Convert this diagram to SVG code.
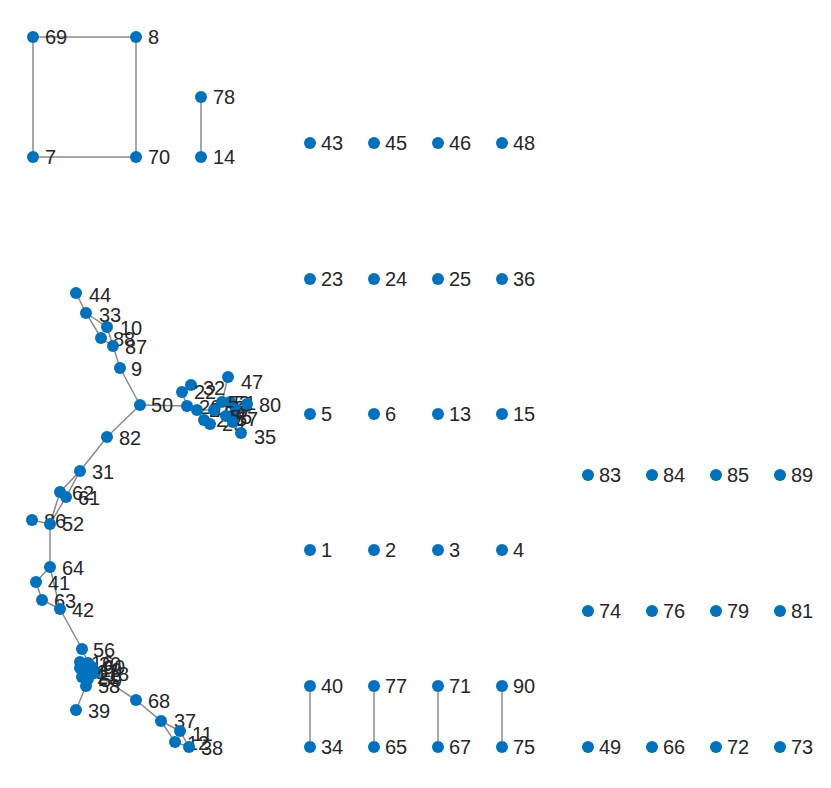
<svg xmlns="http://www.w3.org/2000/svg" width="831" height="788" viewBox="0 0 831 788">
<style>
.e{stroke:#8a8a8a;stroke-width:1.5;fill:none}
.n circle{fill:#0072BD}
.n text{font-family:"Liberation Sans",Arial,sans-serif;font-size:20px;fill:#262626}
</style>
<rect width="831" height="788" fill="#ffffff"/>
<g id="edges" class="e">
<path d="M33,37H136V157H33Z"/>
<path d="M201,97V157"/>
<path d="M310,686V747M374,686V747M438,686V747M502,686V747"/>
<path d="M76,293L86,313L101,338L113,346L120,368L140,405"/>
<path d="M86,313L107,327L113,346"/>
<path d="M140,405L187,406"/>
<path d="M140,405L107,437L80,471"/>
<path d="M80,471L60,492L50,524M80,471L66,497L50,524"/>
<path d="M32,520L50,524L50,567L36,582L42,600L60,609L50,567"/>
<path d="M60,609L82,649L88,663"/>
<path d="M86,686L76,710M95,673L136,700L161,721L180,731L189,747M161,721L175,742L189,747"/>
<path d="M84,672L80,662M84,672L88,663M84,672L92,667M84,672L80,668M84,672L95,673M84,672L82,677M84,672L88,679M84,672L86,686"/>
<path d="M187,406L182,392L191,385M187,406L197,410L204,420L210,424M197,410L214,410L222,402L230,402L247,404M230,402L236,410L233,422L240,433M214,410L226,416M222,402L228,377"/>
</g>
<g id="n69" class="n"><circle cx="33" cy="37" r="6"/><text x="45" y="44">69</text></g>
<g id="n8" class="n"><circle cx="136" cy="37" r="6"/><text x="148" y="44">8</text></g>
<g id="n7" class="n"><circle cx="33" cy="157" r="6"/><text x="45" y="164">7</text></g>
<g id="n70" class="n"><circle cx="136" cy="157" r="6"/><text x="148" y="164">70</text></g>
<g id="n78" class="n"><circle cx="201" cy="97" r="6"/><text x="213" y="104">78</text></g>
<g id="n14" class="n"><circle cx="201" cy="157" r="6"/><text x="213" y="164">14</text></g>
<g id="n43" class="n"><circle cx="310" cy="143" r="6"/><text x="321" y="150">43</text></g>
<g id="n45" class="n"><circle cx="374" cy="143" r="6"/><text x="385" y="150">45</text></g>
<g id="n46" class="n"><circle cx="438" cy="143" r="6"/><text x="449" y="150">46</text></g>
<g id="n48" class="n"><circle cx="502" cy="143" r="6"/><text x="513" y="150">48</text></g>
<g id="n23" class="n"><circle cx="310" cy="279" r="6"/><text x="321" y="286">23</text></g>
<g id="n24" class="n"><circle cx="374" cy="279" r="6"/><text x="385" y="286">24</text></g>
<g id="n25" class="n"><circle cx="438" cy="279" r="6"/><text x="449" y="286">25</text></g>
<g id="n36" class="n"><circle cx="502" cy="279" r="6"/><text x="513" y="286">36</text></g>
<g id="n5" class="n"><circle cx="310" cy="414" r="6"/><text x="321" y="421">5</text></g>
<g id="n6" class="n"><circle cx="374" cy="414" r="6"/><text x="385" y="421">6</text></g>
<g id="n13" class="n"><circle cx="438" cy="414" r="6"/><text x="449" y="421">13</text></g>
<g id="n15" class="n"><circle cx="502" cy="414" r="6"/><text x="513" y="421">15</text></g>
<g id="n1" class="n"><circle cx="310" cy="550" r="6"/><text x="321" y="557">1</text></g>
<g id="n2" class="n"><circle cx="374" cy="550" r="6"/><text x="385" y="557">2</text></g>
<g id="n3" class="n"><circle cx="438" cy="550" r="6"/><text x="449" y="557">3</text></g>
<g id="n4" class="n"><circle cx="502" cy="550" r="6"/><text x="513" y="557">4</text></g>
<g id="n40" class="n"><circle cx="310" cy="686" r="6"/><text x="321" y="693">40</text></g>
<g id="n77" class="n"><circle cx="374" cy="686" r="6"/><text x="385" y="693">77</text></g>
<g id="n71" class="n"><circle cx="438" cy="686" r="6"/><text x="449" y="693">71</text></g>
<g id="n90" class="n"><circle cx="502" cy="686" r="6"/><text x="513" y="693">90</text></g>
<g id="n34" class="n"><circle cx="310" cy="747" r="6"/><text x="321" y="754">34</text></g>
<g id="n65" class="n"><circle cx="374" cy="747" r="6"/><text x="385" y="754">65</text></g>
<g id="n67" class="n"><circle cx="438" cy="747" r="6"/><text x="449" y="754">67</text></g>
<g id="n75" class="n"><circle cx="502" cy="747" r="6"/><text x="513" y="754">75</text></g>
<g id="n83" class="n"><circle cx="588" cy="475" r="6"/><text x="599" y="482">83</text></g>
<g id="n84" class="n"><circle cx="652" cy="475" r="6"/><text x="663" y="482">84</text></g>
<g id="n85" class="n"><circle cx="716" cy="475" r="6"/><text x="727" y="482">85</text></g>
<g id="n89" class="n"><circle cx="780" cy="475" r="6"/><text x="791" y="482">89</text></g>
<g id="n74" class="n"><circle cx="588" cy="611" r="6"/><text x="599" y="618">74</text></g>
<g id="n76" class="n"><circle cx="652" cy="611" r="6"/><text x="663" y="618">76</text></g>
<g id="n79" class="n"><circle cx="716" cy="611" r="6"/><text x="727" y="618">79</text></g>
<g id="n81" class="n"><circle cx="780" cy="611" r="6"/><text x="791" y="618">81</text></g>
<g id="n49" class="n"><circle cx="588" cy="747" r="6"/><text x="599" y="754">49</text></g>
<g id="n66" class="n"><circle cx="652" cy="747" r="6"/><text x="663" y="754">66</text></g>
<g id="n72" class="n"><circle cx="716" cy="747" r="6"/><text x="727" y="754">72</text></g>
<g id="n73" class="n"><circle cx="780" cy="747" r="6"/><text x="791" y="754">73</text></g>
<g id="n44" class="n"><circle cx="76" cy="293" r="6"/><text x="89" y="302">44</text></g>
<g id="n33" class="n"><circle cx="86" cy="313" r="6"/><text x="99" y="322">33</text></g>
<g id="n88" class="n"><circle cx="101" cy="338" r="6"/><text x="113" y="346">88</text></g>
<g id="n10" class="n"><circle cx="107" cy="327" r="6"/><text x="120" y="335">10</text></g>
<g id="n87" class="n"><circle cx="113" cy="346" r="6"/><text x="125" y="354">87</text></g>
<g id="n9" class="n"><circle cx="120" cy="368" r="6"/><text x="131" y="376">9</text></g>
<g id="n50" class="n"><circle cx="140" cy="405" r="6"/><text x="151" y="412">50</text></g>
<g id="n82" class="n"><circle cx="107" cy="437" r="6"/><text x="119" y="445">82</text></g>
<g id="n31" class="n"><circle cx="80" cy="471" r="6"/><text x="92" y="479">31</text></g>
<g id="n62" class="n"><circle cx="60" cy="492" r="6"/><text x="72" y="500">62</text></g>
<g id="n61" class="n"><circle cx="66" cy="497" r="6"/><text x="78" y="505">61</text></g>
<g id="n86" class="n"><circle cx="32" cy="520" r="6"/><text x="44" y="528">86</text></g>
<g id="n52" class="n"><circle cx="50" cy="524" r="6"/><text x="62" y="531">52</text></g>
<g id="n64" class="n"><circle cx="50" cy="567" r="6"/><text x="62" y="575">64</text></g>
<g id="n41" class="n"><circle cx="36" cy="582" r="6"/><text x="48" y="590">41</text></g>
<g id="n63" class="n"><circle cx="42" cy="600" r="6"/><text x="54" y="608">63</text></g>
<g id="n42" class="n"><circle cx="60" cy="609" r="6"/><text x="72" y="617">42</text></g>
<g id="n56" class="n"><circle cx="82" cy="649" r="6"/><text x="93" y="657">56</text></g>
<g id="n20" class="n"><circle cx="88" cy="663" r="6"/><text x="99" y="671">20</text></g>
<g id="n16" class="n"><circle cx="80" cy="662" r="6"/><text x="91" y="670">16</text></g>
<g id="n60" class="n"><circle cx="92" cy="667" r="6"/><text x="103" y="674">60</text></g>
<g id="n17" class="n"><circle cx="84" cy="672" r="6"/><text x="96" y="679">17</text></g>
<g id="n19" class="n"><circle cx="80" cy="668" r="6"/><text x="100" y="677">19</text></g>
<g id="n18" class="n"><circle cx="95" cy="673" r="6"/><text x="107" y="681">18</text></g>
<g id="n21" class="n"><circle cx="82" cy="677" r="6"/><text x="97" y="684">21</text></g>
<g id="n59" class="n"><circle cx="88" cy="679" r="6"/><text x="100" y="687">59</text></g>
<g id="n58" class="n"><circle cx="86" cy="686" r="6"/><text x="98" y="693">58</text></g>
<g id="n39" class="n"><circle cx="76" cy="710" r="6"/><text x="88" y="718">39</text></g>
<g id="n68" class="n"><circle cx="136" cy="700" r="6"/><text x="148" y="708">68</text></g>
<g id="n37" class="n"><circle cx="161" cy="721" r="6"/><text x="174" y="728">37</text></g>
<g id="n11" class="n"><circle cx="180" cy="731" r="6"/><text x="192" y="741">11</text></g>
<g id="n12" class="n"><circle cx="175" cy="742" r="6"/><text x="187" y="750">12</text></g>
<g id="n38" class="n"><circle cx="189" cy="747" r="6"/><text x="201" y="755">38</text></g>
<g id="n47" class="n"><circle cx="228" cy="377" r="6"/><text x="241" y="389">47</text></g>
<g id="n32" class="n"><circle cx="191" cy="385" r="6"/><text x="203" y="395">32</text></g>
<g id="n22" class="n"><circle cx="182" cy="392" r="6"/><text x="194" y="399">22</text></g>
<g id="n26" class="n"><circle cx="187" cy="406" r="6"/><text x="199" y="414">26</text></g>
<g id="n27" class="n"><circle cx="197" cy="410" r="6"/><text x="209" y="417">27</text></g>
<g id="n28" class="n"><circle cx="204" cy="420" r="6"/><text x="216" y="427">28</text></g>
<g id="n29" class="n"><circle cx="210" cy="424" r="6"/><text x="222" y="431">29</text></g>
<g id="n30" class="n"><circle cx="214" cy="410" r="6"/><text x="226" y="417">30</text></g>
<g id="n51" class="n"><circle cx="222" cy="402" r="6"/><text x="234" y="410">51</text></g>
<g id="n53" class="n"><circle cx="230" cy="402" r="6"/><text x="228" y="410">53</text></g>
<g id="n54" class="n"><circle cx="236" cy="410" r="6"/><text x="224" y="420">54</text></g>
<g id="n55" class="n"><circle cx="226" cy="416" r="6"/><text x="230" y="424">55</text></g>
<g id="n57" class="n"><circle cx="233" cy="422" r="6"/><text x="236" y="426">57</text></g>
<g id="n80" class="n"><circle cx="247" cy="404" r="6"/><text x="259" y="412">80</text></g>
<g id="n35" class="n"><circle cx="241" cy="433" r="6"/><text x="254" y="444">35</text></g>
</svg>
